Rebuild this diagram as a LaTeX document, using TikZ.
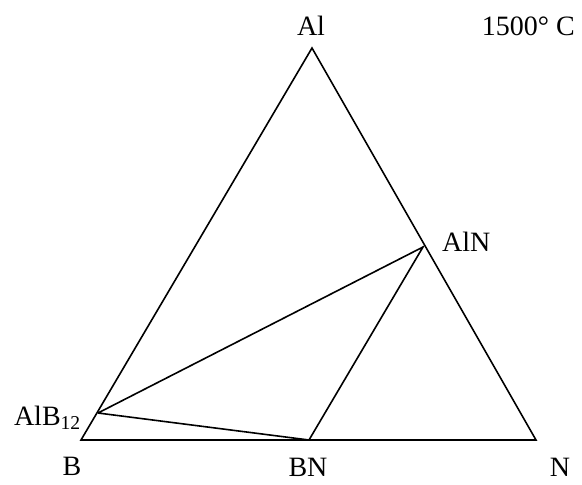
\documentclass[tikz,border=0pt]{standalone}
\usepackage{fontspec}
\setmainfont{Liberation Serif}
\begin{document}
\begin{tikzpicture}[x=1pt,y=-1pt,
  edge/.style={line width=1.6pt,line join=miter},
  lbl/.style={font=\fontsize{28}{32}\selectfont,inner sep=0pt}]
\useasboundingbox (0,0) rectangle (582,485);
\coordinate (Al) at (312,48);
\coordinate (B) at (81,440);
\coordinate (N) at (536,440);
\coordinate (AlN) at (423,247);
\coordinate (AlB) at (98,413);
\coordinate (BN) at (309,440);
\draw[edge] (B) -- (Al) -- (N) -- cycle;
\draw[edge] (AlB) -- (AlN) -- (BN) -- (AlB);
\node[lbl,anchor=base] (tAl) at (311,35) {Al};
\node[lbl,anchor=base east] (tT) at (575,35) {1500° C};
\node[lbl,anchor=base west] (tAlN) at (442,251) {AlN};
\node[lbl,anchor=base east] (tAlB) at (81,425) {AlB\textsubscript{12}};
\node[lbl,anchor=base] (tB) at (72,475) {B};
\node[lbl,anchor=base] (tBN) at (308,476) {BN};
\node[lbl,anchor=base] (tN) at (560,476) {N};
\end{tikzpicture}
\end{document}
